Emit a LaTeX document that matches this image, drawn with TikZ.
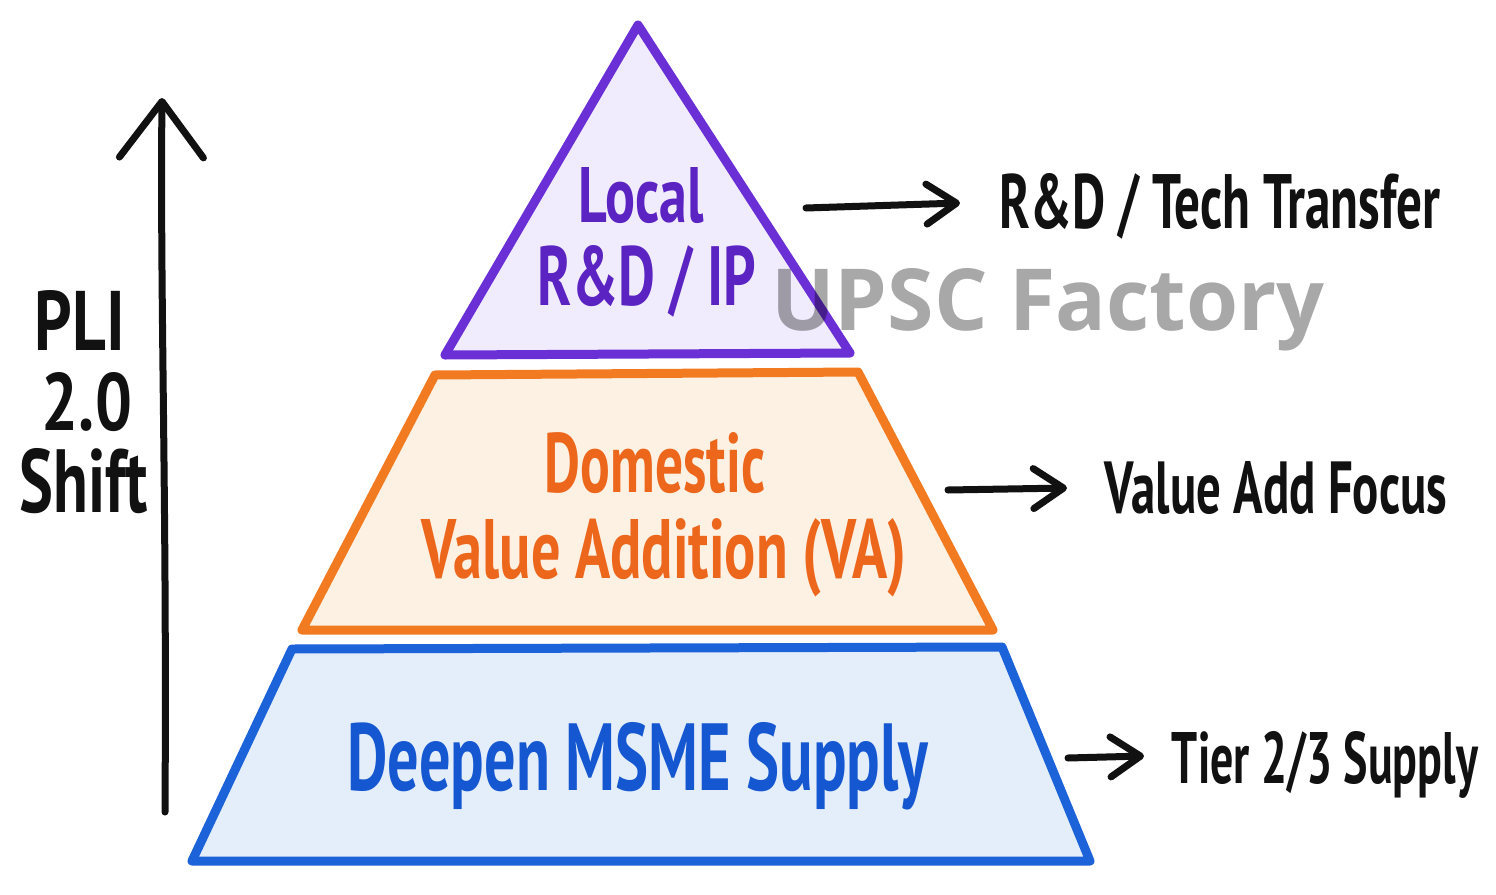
\documentclass[tikz,border=0pt]{standalone}
\usepackage{fontspec}
\usepackage{graphicx}
\setmainfont{PT Sans}
\newfontfamily\wmfont{Open Sans}
\usetikzlibrary{arrows.meta}
\newcommand{\fitto}[3]{\resizebox{#1pt}{#2pt}{\bfseries #3}}
\definecolor{purpleS}{HTML}{6B2FD6}
\definecolor{purpleF}{HTML}{F1ECFD}
\definecolor{purpleT}{HTML}{5A23C2}
\definecolor{orangeS}{HTML}{F27B21}
\definecolor{orangeF}{HTML}{FDF1E3}
\definecolor{orangeT}{HTML}{EC661C}
\definecolor{blueS}{HTML}{1C62D8}
\definecolor{blueF}{HTML}{E4EEFB}
\definecolor{blueT}{HTML}{1557D0}
\definecolor{inkc}{HTML}{111111}
\tikzset{
  level/.style={line width=9pt, line join=round, line cap=round},
  lbl/.style={inner sep=0pt, outer sep=0pt, anchor=base},
  ink/.style={draw=inkc, line width=7pt, line cap=round, line join=round},
  sidearrow/.style={ink, -{Straight Barb[length=30pt 0, width=40pt 0, round]}},
  bigarrow/.style={ink, -{Straight Barb[length=56pt 0, width=84pt 0, round]}},
}
\begin{document}
\begin{tikzpicture}[x=1pt, y=-1pt]
\useasboundingbox[fill=white] (0,0) rectangle (1496,894);

% pyramid levels
\draw[level, draw=purpleS, fill=purpleF] (638,25) -- (850,353) -- (445,355) -- cycle;
\draw[level, draw=orangeS, fill=orangeF] (435,375) -- (858,372) -- (993,630) -- (302,630) -- cycle;
\draw[level, draw=blueS, fill=blueF] (292,649) -- (1002,647) -- (1090,861) -- (192,861) -- cycle;

% level texts
\node[lbl, text=purpleT] (local) at (641,222) {\fitto{125}{55}{Local}};
\node[lbl, text=purpleT] (rdip) at (647,305) {\fitto{218}{60}{R\&D / IP}};
\node[lbl, text=orangeT] (dom) at (655,492) {\fitto{220}{60}{Domestic}};
\node[lbl, text=orangeT] (va) at (664,578) {\fitto{484}{60}{Value Addition (VA)}};
\node[lbl, text=blueT] (msme) at (638,790) {\fitto{581}{68}{Deepen MSME Supply}};

% left arrow and label
\coordinate (shiftlow) at (165,812);
\coordinate (shifthigh) at (162,98);
\draw[bigarrow] (shiftlow) .. controls (167,500) and (160,300) .. (shifthigh);
\node[lbl, text=inkc] (pli) at (80,350) {\fitto{90}{60}{PLI}};
\node[lbl, text=inkc] (two) at (87,430) {\fitto{90}{58}{2.0}};
\node[lbl, text=inkc] (shiftt) at (84,512) {\fitto{128}{64}{Shift}};

% right labels
\node[lbl, text=inkc] (rdtt) at (1220,228) {\fitto{440}{55}{R\&D / Tech Transfer}};
\node[lbl, text=inkc] (vaf) at (1276,513) {\fitto{342}{52}{Value Add Focus}};
\node[lbl, text=inkc] (tier) at (1325,783) {\fitto{306}{52}{Tier 2/3 Supply}};

% right arrows
\coordinate (s1) at (806,208);
\coordinate (e1) at (960,203);
\coordinate (s2) at (948,490);
\coordinate (e2) at (1067,488);
\coordinate (s3) at (1068,758);
\coordinate (e3) at (1144,756);
\draw[sidearrow] (s1) -- (e1);
\draw[sidearrow] (s2) -- (e2);
\draw[sidearrow] (s3) -- (e3);

% watermark
\node[lbl, text=black, text opacity=0.34] (wm) at (1048,330) {\resizebox{553pt}{62pt}{\wmfont\bfseries UPSC Factory}};
\end{tikzpicture}
\end{document}
